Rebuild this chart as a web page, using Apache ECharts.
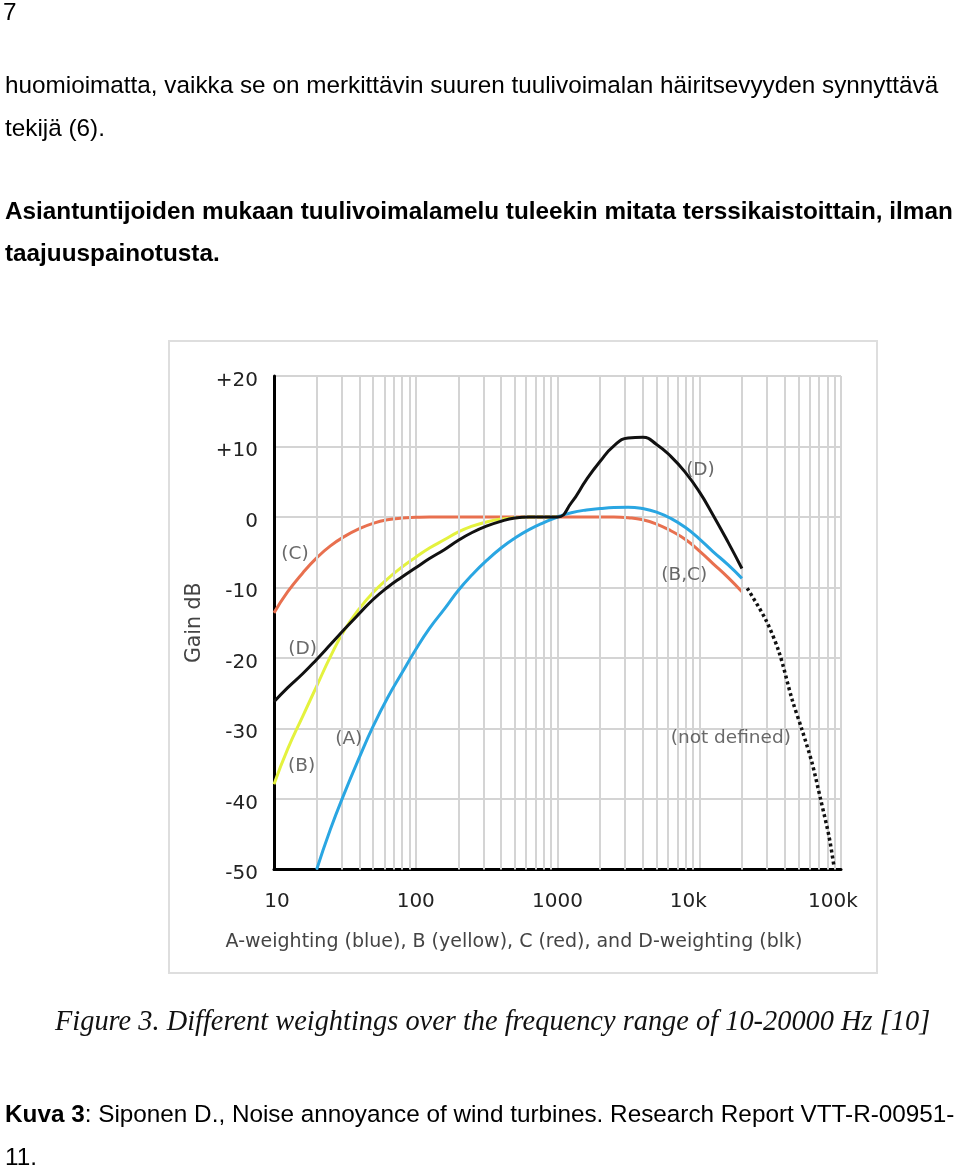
<!DOCTYPE html>
<html>
<head>
<meta charset="utf-8">
<script src="https://cdn.jsdelivr.net/npm/echarts@6/dist/echarts.min.js"></script>
<style>
  html, body { margin: 0; padding: 0; background: #fff; }
  #page { position: relative; width: 960px; height: 1168px; overflow: hidden; }
  #chart { position: absolute; left: 0; top: 0; width: 960px; height: 1168px; }
  .t { position: absolute; white-space: nowrap; font-family: "Liberation Sans", Arial, sans-serif; color: #000; font-size: 24.3px; line-height: 24.3px; pointer-events: none; }
  .b { font-weight: bold; }
  .cap { font-family: "Liberation Serif", "Times New Roman", serif; font-style: italic; font-size: 28.4px; line-height: 28.4px; color: #111; }
</style>
</head>
<body>
<div id="page">
  <div id="chart"></div>
  <div class="t" style="left:3px; top:0px;">7</div>
  <div class="t" style="left:5px; top:73px;">huomioimatta, vaikka se on merkittävin suuren tuulivoimalan häiritsevyyden synnyttävä</div>
  <div class="t" style="left:5px; top:115.5px;">tekijä (6).</div>
  <div class="t b" style="left:5px; top:199px;">Asiantuntijoiden mukaan tuulivoimalamelu tuleekin mitata terssikaistoittain, ilman</div>
  <div class="t b" style="left:5px; top:241px;">taajuuspainotusta.</div>
  <div class="t cap" style="left:55px; top:1006.5px;">Figure 3. Different weightings over the frequency range of 10-20000 Hz [10]</div>
  <div class="t" style="left:5px; top:1102px;"><span class="b">Kuva 3</span>: Siponen D., Noise annoyance of wind turbines. Research Report VTT-R-00951-</div>
  <div class="t" style="left:5px; top:1145px;">11.</div>
</div>
<script>
// ---- Data (at 1/3-octave frequencies) ----
// A-weighting (blue)
const freqA = [20, 25, 31.5, 40, 50, 63, 80, 100, 125, 160, 200, 250, 315, 400, 500, 630, 800, 1000, 1250, 1600, 2000, 2500, 3150, 4000, 5000, 6300, 8000, 10000, 12500, 16000, 20000];
const gainA = [-50, -44.3, -39.1, -34.1, -29.7, -25.7, -22.1, -18.8, -15.8, -13.0, -10.4, -8.2, -6.2, -4.4, -3.0, -1.8, -0.8, 0, 0.6, 1.0, 1.2, 1.35, 1.4, 1.2, 0.7, -0.2, -1.5, -3.1, -4.9, -6.8, -8.7];
// B-weighting (yellow)
const freqB = [10, 12.5, 16, 20, 25, 31.5, 40, 50, 63, 80, 100, 125, 160, 200, 250, 315, 400, 500, 630, 800, 1000];
const gainB = [-37.9, -32.9, -28.2, -24.0, -19.8, -16.0, -13.0, -10.7, -8.8, -7.1, -5.7, -4.4, -3.2, -2.1, -1.3, -0.7, -0.3, -0.1, 0, 0, 0];
// C-weighting (red)
const freqC = [10, 12.5, 16, 20, 25, 31.5, 40, 50, 63, 80, 100, 125, 160, 200, 250, 315, 400, 500, 630, 800, 1000, 1250, 1600, 2000, 2500, 3150, 4000, 5000, 6300, 8000, 10000, 12500, 16000, 20000];
const gainC = [-13.6, -10.6, -7.9, -5.8, -4.1, -2.75, -1.65, -0.9, -0.4, -0.15, -0.05, 0, 0, 0, 0, 0, 0, 0, 0, 0, 0, 0, 0, 0, 0, -0.1, -0.4, -1.0, -1.95, -3.2, -4.8, -6.6, -8.6, -10.6];
// D-weighting (black)
const freqD = [10, 12.5, 16, 20, 25, 31.5, 40, 50, 63, 80, 100, 125, 160, 200, 250, 315, 400, 500, 630, 800, 1000, 1250, 1600, 2000, 2500, 3150, 4000, 5000, 6300, 8000, 10000, 12500, 16000, 20000];
const gainD = [-26.2, -24.2, -22.2, -20.2, -18.1, -15.9, -13.7, -11.7, -10.0, -8.5, -7.2, -5.9, -4.6, -3.3, -2.2, -1.3, -0.6, -0.15, 0, 0, 0, 2.0, 5.3, 7.9, 10.1, 11.2, 11.3, 10.3, 8.6, 6.3, 3.6, 0.3, -3.6, -7.3];
// "not defined" extension (dotted)
const freqND = [21800, 29500, 36600, 45200, 53100, 62500, 71900, 82300, 89300];
const gainND = [-10.1, -14.6, -19.2, -25.9, -30.2, -34.9, -40.1, -45.3, -49.6];
// tick labels
const xTickValues = [10, 100, 1000, 10000, 100000];
const xTickLabels = ['10', '100', '1000', '10k', '100k'];
// minor vertical grid lines
const minorGridFreqs = [20, 30, 40, 50, 60, 70, 80, 90, 200, 300, 400, 500, 600, 700, 800, 900,
  2000, 3000, 4000, 5000, 6000, 7000, 8000, 9000, 20000, 30000, 40000, 50000, 60000, 70000, 80000, 90000];
// curve annotations
const annotNames = ['(C)', '(D)', '(B)', '(A)', '(D)', '(B,C)', '(not defined)'];
const annotFreq = [14.06, 15.93, 15.66, 33.7, 10200, 7830, 16700];
const annotGain = [-5.33, -18.8, -35.4, -31.5, 6.7, -8.2, -31.4];

const zip = (xs, ys) => xs.map((x, i) => [x, ys[i]]);

const chart = echarts.init(document.getElementById('chart'), null, { renderer: 'canvas' });
const GRID = '#d4d4d4';
const FONT = '"DejaVu Sans", Verdana, sans-serif';

const curve = (name, data, color, z) => ({
  name, type: 'line', data, showSymbol: false, symbol: 'none', smooth: 0.5,
  lineStyle: { color, width: 3 }, z, silent: true, clip: true, animation: false
});

// label nudges to match the reference's placement
const tickFont = { fontSize: 20, color: '#222', fontFamily: FONT };
const xTickRich = {
  l: Object.assign({ padding: [0, 0, 0, 6] }, tickFont),
  c: Object.assign({}, tickFont),
  k: Object.assign({ padding: [0, 22, 0, 0] }, tickFont),
  kk: Object.assign({ padding: [0, 16, 0, 0] }, tickFont)
};
const xTickStyle = ['l', 'c', 'c', 'k', 'kk'];

chart.setOption({
  animation: false,
  backgroundColor: 'transparent',
  textStyle: { fontFamily: FONT },
  graphic: [
    { type: 'rect', shape: { x: 169, y: 341, width: 708, height: 632 }, style: { fill: 'none', stroke: '#dedede', lineWidth: 2 }, silent: true, z: -1 },
    { type: 'text', x: 514, y: 942, style: { text: 'A-weighting (blue), B (yellow), C (red), and D-weighting (blk)', font: '19px "DejaVu Sans", Verdana, sans-serif', fill: '#444', align: 'center', verticalAlign: 'middle' }, silent: true }
  ],
  grid: { left: 274, top: 376, width: 567, height: 493.5, containLabel: false },
  xAxis: {
    type: 'log', logBase: 10, min: 10, max: 100000,
    axisLine: { show: true, onZero: false, lineStyle: { color: '#000', width: 3 } },
    axisTick: { show: false },
    axisLabel: {
      margin: 22, fontSize: 20, color: '#222', fontFamily: FONT, rich: xTickRich,
      formatter: v => { const i = xTickValues.indexOf(Math.round(v)); return i >= 0 ? '{' + xTickStyle[i] + '|' + xTickLabels[i] + '}' : ''; }
    },
    splitLine: { show: true, lineStyle: { color: GRID, width: 2 } }
  },
  yAxis: {
    type: 'value', min: -50, max: 20, interval: 10,
    name: 'Gain dB', nameLocation: 'middle', nameGap: 68, nameRotate: 90,
    nameTextStyle: { fontSize: 20.5, color: '#444', fontFamily: FONT },
    axisLine: { show: true, onZero: false, lineStyle: { color: '#000', width: 3 } },
    axisTick: { show: false },
    axisLabel: {
      margin: 16, fontSize: 20, color: '#222', fontFamily: FONT,
      rich: { y: Object.assign({ padding: [9, 0, 0, 0] }, tickFont) },
      formatter: v => '{y|' + (v > 0 ? '+' + v : String(v)) + '}'
    },
    splitLine: { show: true, lineStyle: { color: GRID, width: 2 } }
  },
  series: [
    {
      name: 'grid', type: 'line', data: [], silent: true, z: 1,
      markLine: {
        silent: true, symbol: ['none', 'none'], label: { show: false }, animation: false,
        lineStyle: { color: GRID, width: 2, type: 'solid' },
        emphasis: { disabled: true },
        data: minorGridFreqs.map(f => ({ xAxis: f }))
      }
    },
    curve('C', zip(freqC, gainC), '#e8704f', 3),
    curve('B', zip(freqB, gainB), '#e4f23e', 4),
    curve('A', zip(freqA, gainA), '#2aa6e2', 5),
    curve('D', zip(freqD, gainD), '#111111', 6),
    {
      name: 'not defined', type: 'line', data: zip(freqND, gainND), showSymbol: false, symbol: 'none',
      smooth: 0.3, lineStyle: { color: '#111', width: 3.5, type: [3, 3] }, z: 6, silent: true
    },
    {
      name: 'labels', type: 'scatter', symbolSize: 1, z: 7, silent: true,
      itemStyle: { color: 'rgba(0,0,0,0)' },
      data: annotNames.map((n, i) => ({ name: n, value: [annotFreq[i], annotGain[i]] })),
      label: { show: true, position: 'inside', formatter: '{b}', color: '#444', fontSize: 18.5, fontFamily: FONT }
    }
  ]
});
</script>
</body>
</html>
